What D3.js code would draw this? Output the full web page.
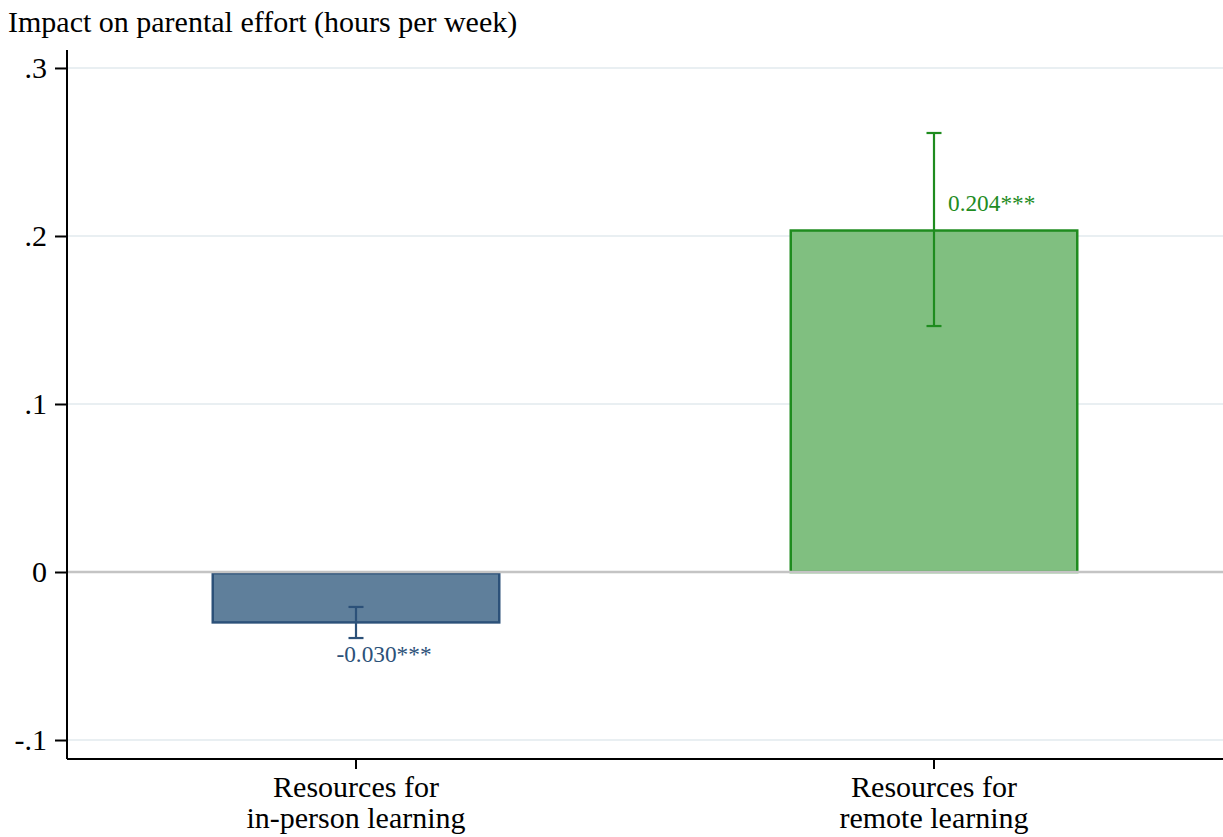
<!DOCTYPE html>
<html>
<head>
<meta charset="utf-8">
<script src="https://cdn.jsdelivr.net/npm/d3@7"></script>
<style>
  html, body { margin: 0; padding: 0; background: #ffffff; }
  svg { display: block; font-family: "Liberation Serif", "Times New Roman", serif; }
</style>
</head>
<body>
<svg id="chart" width="1223" height="837"></svg>
<script>
// Estimated effects with 95% confidence intervals
const categories = ["Resources for\nin-person learning", "Resources for\nremote learning"];
const estimates = [-0.030, 0.204];
const ciLow = [-0.0393, 0.1464];
const ciHigh = [-0.0208, 0.2613];
const valueLabels = ["-0.030***", "0.204***"];
const yTicks = [-0.1, 0, 0.1, 0.2, 0.3];
const yTickLabels = ["-.1", "0", ".1", ".2", ".3"];
const yTitle = "Impact on parental effort (hours per week)";

const fills = ["#5f7f9b", "#80bf80"];
const strokes = ["#2c5179", "#1f8c1f"];

const svg = d3.select("#chart");
const plotLeft = 67, plotRight = 1223, plotTop = 50, plotBottom = 759;

const x = d3.scaleBand()
  .domain(categories)
  .range([plotLeft, plotRight])
  .paddingInner(0.5)
  .paddingOuter(0.25);

const y = d3.scaleLinear()
  .domain([-0.1113, 0.3107])
  .range([plotBottom, plotTop]);

// horizontal grid lines
svg.append("g").selectAll("line")
  .data(yTicks.filter(d => d !== 0))
  .join("line")
  .attr("x1", plotLeft).attr("x2", plotRight)
  .attr("y1", d => y(d)).attr("y2", d => y(d))
  .attr("stroke", "#e9eff2").attr("stroke-width", 2);

// bars
svg.append("g").selectAll("rect")
  .data(estimates)
  .join("rect")
  .attr("x", (d, i) => x(categories[i]) + 1.25)
  .attr("width", x.bandwidth() - 2.5)
  .attr("y", d => Math.min(y(d), y(0)) + 1.25)
  .attr("height", d => Math.abs(y(d) - y(0)) - 1.25)
  .attr("fill", (d, i) => fills[i])
  .attr("stroke", (d, i) => strokes[i])
  .attr("stroke-width", 2.5);

// zero reference line
svg.append("line")
  .attr("x1", plotLeft).attr("x2", plotRight)
  .attr("y1", y(0)).attr("y2", y(0))
  .attr("stroke", "#c4c4c4").attr("stroke-width", 2.5);

// confidence intervals
const ci = svg.append("g");
estimates.forEach((d, i) => {
  const cx = x(categories[i]) + x.bandwidth() / 2;
  const g = ci.append("g").attr("stroke", strokes[i]).attr("stroke-width", 2.2);
  g.append("line").attr("x1", cx).attr("x2", cx).attr("y1", y(ciLow[i])).attr("y2", y(ciHigh[i]));
  g.append("line").attr("x1", cx - 7.5).attr("x2", cx + 7.5).attr("y1", y(ciLow[i])).attr("y2", y(ciLow[i]));
  g.append("line").attr("x1", cx - 7.5).attr("x2", cx + 7.5).attr("y1", y(ciHigh[i])).attr("y2", y(ciHigh[i]));
});

// value labels
const labelDx = [28, 14];
const labelDy = [40, -18];
const labelAnchor = ["middle", "start"];
svg.append("g").selectAll("text")
  .data(estimates)
  .join("text")
  .attr("x", (d, i) => x(categories[i]) + x.bandwidth() / 2 + labelDx[i])
  .attr("y", (d, i) => y(d) + labelDy[i])
  .attr("text-anchor", (d, i) => labelAnchor[i])
  .attr("fill", (d, i) => strokes[i])
  .attr("font-size", 23.3)
  .text((d, i) => valueLabels[i]);

// y axis
const yAxis = svg.append("g")
  .attr("transform", `translate(${plotLeft},0)`)
  .call(d3.axisLeft(y).tickValues(yTicks).tickSize(12).tickPadding(8)
    .tickFormat((d, i) => yTickLabels[i]));
yAxis.select(".domain").attr("d", `M0,${plotTop}V${plotBottom}`).attr("stroke", "#000").attr("stroke-width", 2);
yAxis.selectAll(".tick line").attr("stroke", "#000").attr("stroke-width", 2);
yAxis.selectAll(".tick text").attr("font-size", 30).attr("fill", "#000")
  .attr("font-family", "Liberation Serif, serif");

// x axis
const xAxis = svg.append("g")
  .attr("transform", `translate(0,${plotBottom})`)
  .call(d3.axisBottom(x).tickSize(10).tickFormat(""));
xAxis.select(".domain").attr("d", `M${plotLeft},0H${plotRight}`).attr("stroke", "#000").attr("stroke-width", 2);
xAxis.selectAll(".tick line").attr("stroke", "#000").attr("stroke-width", 2);
xAxis.selectAll(".tick").each(function(d) {
  const lines = d.split("\n");
  const t = d3.select(this).append("text")
    .attr("fill", "#000").attr("font-size", 30)
    .attr("text-anchor", "middle")
    .attr("font-family", "Liberation Serif, serif");
  lines.forEach((ln, k) => {
    t.append("tspan").attr("x", 0).attr("y", 38 + k * 31).text(ln);
  });
});

// axis title
svg.append("text")
  .attr("x", 8).attr("y", 32)
  .attr("font-size", 30).attr("fill", "#000")
  .text(yTitle);
</script>
</body>
</html>
